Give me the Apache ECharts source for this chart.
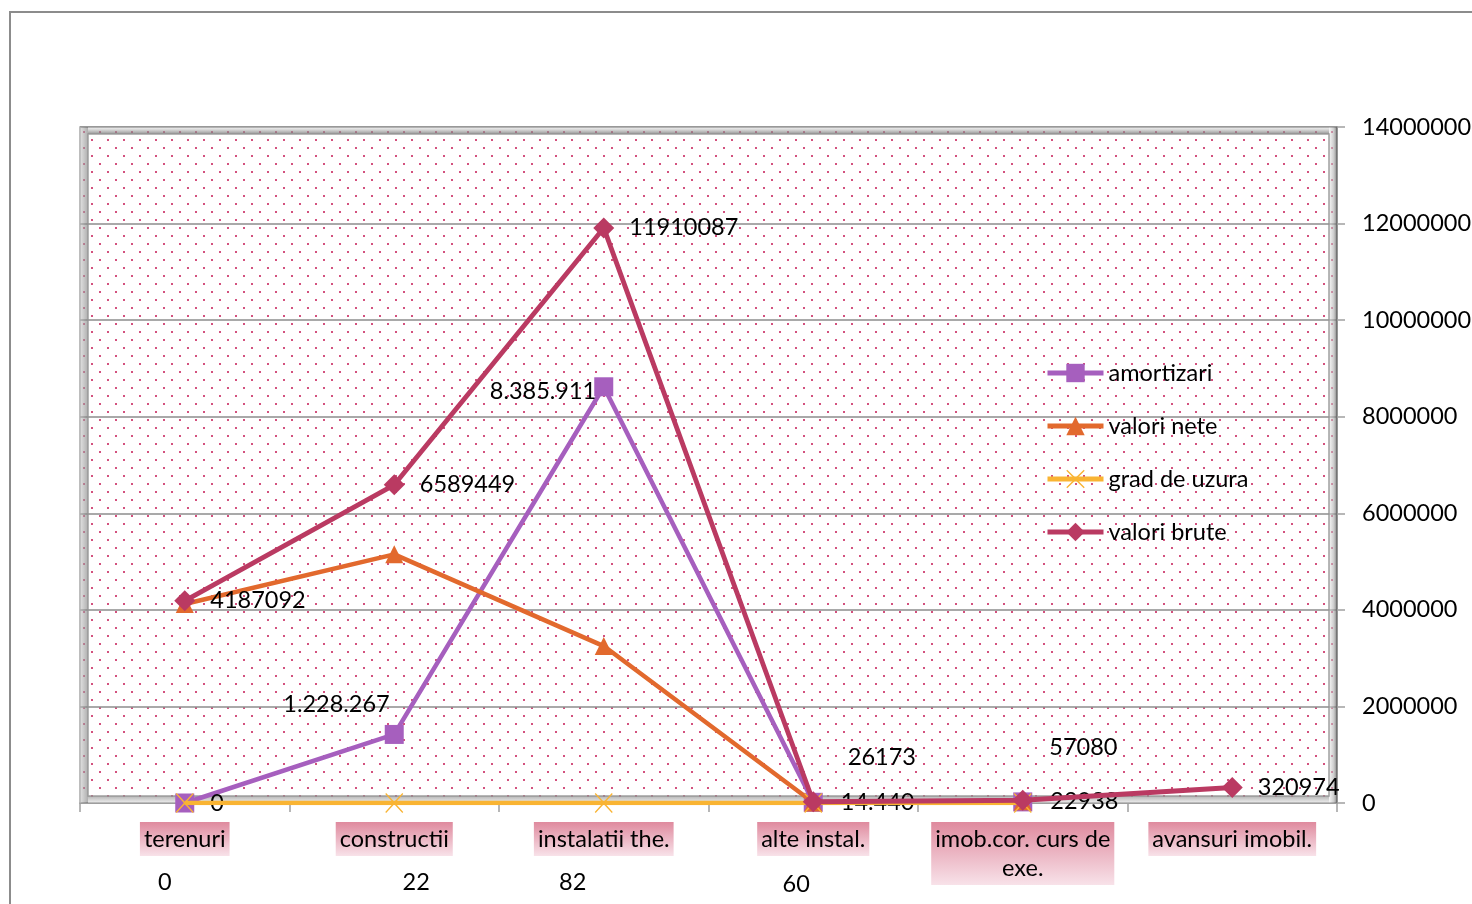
<!DOCTYPE html>
<html>
<head>
<meta charset="utf-8">
<script src="https://cdn.jsdelivr.net/npm/echarts@6/dist/echarts.min.js"></script>
<style>
html,body{margin:0;padding:0;background:#fff;}
#c{width:1472px;height:904px;}
</style>
</head>
<body>
<div id="c"></div>
<script>
// ---------- data ----------
const categories = ['terenuri', 'constructii', 'instalatii the.', 'alte instal.', 'imob.cor. curs de exe.', 'avansuri imobil.'];
const amortizari = [0, 1420000, 8620000, 14440, 22938, null];
const valoriNete = [4120000, 5150000, 3250000, 11700, 34100, null];
const gradDeUzura = [0, 22, 82, 60, 40, null];
const valoriBrute = [4187092, 6589449, 11910087, 26173, 57080, 320974];
const amortizariLabels = ['0', '1.228.267', '8.385.911', '14.440', '22938', ''];
const bruteLabels = ['4187092', '6589449', '11910087', '26173', '57080', '320974'];
const gradLabels = ['0', '22', '82', '60', '', ''];
const yMin = 0, yMax = 14000000, yInterval = 2000000;

// ---------- label placement (style) ----------
const amortPlace = [
  {position: 'right', distance: 16},
  {position: 'left', distance: 0, offset: [5, -30]},
  {position: 'left', distance: 0, offset: [2, 5]},
  {position: 'right', distance: 18},
  {position: 'right', distance: 18},
  null
];
const brutePlace = [
  {position: 'right', distance: 15},
  {position: 'right', distance: 15},
  {position: 'right', distance: 15},
  {position: 'right', distance: 15, offset: [9, -44]},
  {position: 'right', distance: 15, offset: [1, -53]},
  {position: 'right', distance: 15}
];
const gradPlace = [
  {position: 'inside', offset: [-20, 79]},
  {position: 'inside', offset: [22, 79]},
  {position: 'inside', offset: [-31, 79]},
  {position: 'inside', offset: [-17, 81]},
  null, null
];

const FONT = 'Lato';
const FS = 23.5;
const labelBase = {show: true, color: '#000', fontFamily: FONT, fontSize: FS};

function buildData(values, texts, places) {
  return values.map((v, i) => {
    const t = texts ? texts[i] : '';
    const p = places ? places[i] : null;
    if (!t || !p) return {value: v, label: {show: false}};
    return {value: v, label: Object.assign({}, labelBase, p, {formatter: () => t})};
  });
}

// dotted pattern for plot background
const tile = document.createElement('canvas');
tile.width = 16; tile.height = 16;
const tctx = tile.getContext('2d');
tctx.fillStyle = '#fff';
tctx.fillRect(0, 0, 16, 16);
tctx.fillStyle = 'rgba(206,62,112,0.9)';
tctx.fillRect(3, 3, 2, 2);
tctx.fillRect(11, 11, 2, 2);

const G = {left: 80, top: 127, right: 1337, bottom: 803};
const W = 1472, H = 904;

const crossPath = 'path://M1,0 L10,9.5 L19,0 L20,1.2 L11,11 L20,20.8 L19,22 L10,12.5 L1,22 L0,20.8 L9,11 L0,1.2 Z';

const chart = echarts.init(document.getElementById('c'), null, {renderer: 'canvas'});
const option = {
  animation: false,
  backgroundColor: '#fff',
  textStyle: {fontFamily: FONT},
  grid: {
    left: G.left, right: W - G.right, top: G.top, bottom: H - G.bottom,
    outerBoundsMode: 'none',
    containLabel: false,
    show: true,
    backgroundColor: {image: tile, repeat: 'repeat'},
    borderColor: '#a8a8a8', borderWidth: 1.5
  },
  legend: {
    orient: 'vertical',
    left: 1040, top: 356,
    itemWidth: 56, itemHeight: 23, itemGap: 29,
    lineStyle: {width: 5},
    textStyle: {fontFamily: FONT, fontSize: FS, color: '#000', lineHeight: 24},
    data: ['amortizari', 'valori nete', 'grad de uzura', 'valori brute']
  },
  xAxis: {
    type: 'category',
    data: categories,
    boundaryGap: true,
    axisLine: {show: true, lineStyle: {color: '#a0a0a0', width: 1.5}},
    axisTick: {show: true, length: 9, alignWithLabel: false, interval: 0, lineStyle: {color: '#a0a0a0', width: 1.5}},
    axisLabel: {
      interval: 0, margin: 19,
      color: '#000', fontFamily: FONT, fontSize: FS, lineHeight: 29,
      padding: [3, 4, 2, 4],
      backgroundColor: new echarts.graphic.LinearGradient(0, 0, 0, 1, [
        {offset: 0, color: '#df8a9e'}, {offset: 1, color: '#f8e2e9'}
      ]),
      formatter: function (v) {
        if (v.length > 18) {
          const cut = v.lastIndexOf(' ', 18);
          return v.slice(0, cut) + '\n' + v.slice(cut + 1);
        }
        return v;
      }
    },
    splitLine: {show: false}
  },
  yAxis: {
    type: 'value',
    position: 'right',
    min: yMin, max: yMax, interval: yInterval,
    axisLine: {show: true, lineStyle: {color: '#8a8a8a', width: 1.5}},
    axisTick: {show: true, length: 8, lineStyle: {color: '#a0a0a0', width: 1.5}},
    axisLabel: {color: '#000', fontFamily: FONT, fontSize: FS, margin: 25, formatter: v => String(v)},
    splitLine: {show: true, lineStyle: {color: '#8c8c8c', width: 1.6}}
  },
  graphic: [
    {type: 'rect', z: -10, silent: true,
      shape: {x: 10, y: 12, width: 1600, height: 1100},
      style: {fill: 'none', stroke: '#8c8c8c', lineWidth: 2}},
    // wall bands
    {type: 'rect', z: 1, silent: true,
      shape: {x: G.left, y: G.top, width: 8, height: G.bottom - G.top},
      style: {fill: new echarts.graphic.LinearGradient(0, 0, 1, 0, [{offset: 0, color: 'rgba(200,200,200,0.55)'}, {offset: 1, color: 'rgba(120,120,120,0.6)'}])}},
    {type: 'rect', z: 1, silent: true,
      shape: {x: G.right - 8, y: G.top, width: 8, height: G.bottom - G.top},
      style: {fill: new echarts.graphic.LinearGradient(0, 0, 1, 0, [{offset: 0, color: 'rgba(235,235,235,0.5)'}, {offset: 0.6, color: 'rgba(170,170,170,0.6)'}, {offset: 1, color: 'rgba(90,90,90,0.75)'}])}},
    {type: 'rect', z: 1, silent: true,
      shape: {x: G.left + 8, y: G.top, width: G.right - G.left - 16, height: 7},
      style: {fill: new echarts.graphic.LinearGradient(0, 0, 0, 1, [{offset: 0, color: 'rgba(220,220,220,0.4)'}, {offset: 1, color: 'rgba(110,110,110,0.75)'}])}},
    {type: 'rect', z: 1, silent: true,
      shape: {x: G.left + 8, y: G.bottom - 7, width: G.right - G.left - 16, height: 7},
      style: {fill: new echarts.graphic.LinearGradient(0, 0, 0, 1, [{offset: 0, color: 'rgba(130,130,130,0.6)'}, {offset: 1, color: 'rgba(220,220,220,0.5)'}])}},
    {type: 'rect', z: 1, silent: true,
      shape: {x: G.left + 8, y: G.top + 7, width: G.right - G.left - 16, height: G.bottom - G.top - 14},
      style: {fill: 'none', stroke: 'rgba(150,150,150,0.9)', lineWidth: 1.5}}
  ],
  series: [
    {
      name: 'amortizari', type: 'line',
      data: buildData(amortizari, amortizariLabels, amortPlace),
      symbol: 'rect', symbolSize: 19,
      itemStyle: {color: '#a65fbe'},
      lineStyle: {color: '#a65fbe', width: 4.5},
      z: 3
    },
    {
      name: 'valori nete', type: 'line',
      data: buildData(valoriNete, null, null),
      symbol: 'triangle', symbolSize: 18,
      itemStyle: {color: '#e2692d'},
      lineStyle: {color: '#e2692d', width: 4.5},
      z: 4
    },
    {
      name: 'grad de uzura', type: 'line',
      data: buildData(gradDeUzura, gradLabels, gradPlace),
      symbol: crossPath, symbolSize: [18, 20],
      itemStyle: {color: '#f9b433'},
      lineStyle: {color: '#f9b433', width: 4.5},
      z: 5
    },
    {
      name: 'valori brute', type: 'line',
      data: buildData(valoriBrute, bruteLabels, brutePlace),
      symbol: 'diamond', symbolSize: 21,
      itemStyle: {color: '#ba3a62'},
      lineStyle: {color: '#ba3a62', width: 4.8},
      z: 6
    }
  ]
};
chart.setOption(option);
</script>
</body>
</html>
